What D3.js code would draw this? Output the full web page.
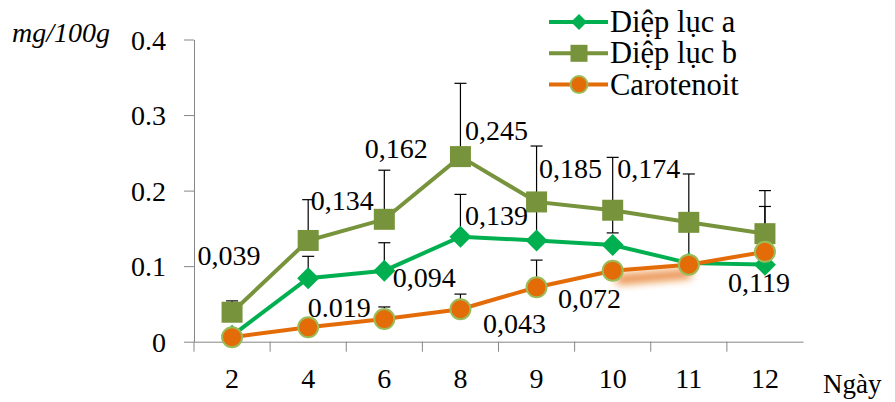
<!DOCTYPE html>
<html>
<head>
<meta charset="utf-8">
<script src="https://cdn.jsdelivr.net/npm/d3@7"></script>
<style>
  body { margin: 0; background: #fff; }
  svg, svg text { font-family: "Liberation Serif", "Times New Roman", Times, "DejaVu Serif", serif; }
</style>
</head>
<body>
<div id="chart"></div>
<script>
// days on the x axis
const days = ["2", "4", "6", "8", "9", "10", "11", "12"];
const yTicks = [0, 0.1, 0.2, 0.3, 0.4];

// series values (mg/100g)
const diepLucA = [0.008, 0.084, 0.094, 0.139, 0.134, 0.128, 0.104, 0.102];
const diepLucB = [0.039, 0.134, 0.162, 0.245, 0.185, 0.174, 0.158, 0.143];
const carotenoit = [0.006, 0.019, 0.030, 0.043, 0.072, 0.094, 0.102, 0.119];

// top of each error bar (null = no bar)
const errTopA = [null, 0.113, 0.131, 0.195, 0.175, null, 0.160, 0.179];
const errTopB = [0.054, 0.188, 0.227, 0.342, 0.259, 0.244, 0.222, 0.200];
const errTopC = [null, null, 0.046, 0.063, 0.108, null, null, null];
const errBottomB = [null, null, null, null, null, 0.144, null, null];

// data labels shown on the chart
const labelsA = [null, null, "0,094", "0,139", null, null, null, null];
const labelsB = ["0,039", "0,134", "0,162", "0,245", "0,185", "0,174", null, null];
const labelsC = [null, "0.019", null, "0,043", "0,072", null, null, "0,119"];

const seriesNames = ["Diệp lục a", "Diệp lục b", "Carotenoit"];

// label offsets from their point, [dx, dy]
const labelOffsets = {
  a: [null, null, [40, 16], [36, -12], null, null, null, null],
  b: [[-3, -47], [34, -30], [12, -61], [36, -17], [34, -24], [36, -32], null, null],
  c: [null, [31, -10], null, [54, 24], [53, 21], null, null, [-6, 40]]
};

const width = 895, height = 402;
const fontSize = 28;
const serif = "'Liberation Serif', 'Times New Roman', Times, 'DejaVu Serif', serif";
const colors = { a: "#00B050", b: "#77933C", c: "#E36C09", cEdge: "#9BBB59", axis: "#868686" };

const svg = d3.select("#chart").append("svg")
  .attr("width", width)
  .attr("height", height)
  .style("font-family", serif);

const defs = svg.append("defs");
defs.append("filter").attr("id", "glow")
  .attr("x", "-50%").attr("y", "-200%").attr("width", "200%").attr("height", "500%")
  .append("feGaussianBlur").attr("stdDeviation", 4);

const x = d3.scaleBand().domain(days).range([194, 803]).padding(0);
const y = d3.scaleLinear().domain([0, 0.4]).range([341.7, 39.5]);
const cx = d => x(d) + x.bandwidth() / 2;

// y axis
const yAxis = svg.append("g")
  .attr("transform", "translate(194,0)")
  .call(d3.axisLeft(y).tickValues(yTicks).tickSize(10).tickSizeOuter(0).tickPadding(18)
    .tickFormat(d => d === 0 ? "0" : d3.format(".1f")(d)));
yAxis.attr("font-family", null).attr("font-size", null);
yAxis.selectAll("path, line").attr("stroke", colors.axis);
yAxis.selectAll("text").attr("font-size", fontSize).attr("fill", "#000")
  .style("font-family", serif).attr("dy", "0.35em");

// x axis
const xAxis = svg.append("g")
  .attr("transform", `translate(0,${y(0)})`)
  .call(d3.axisBottom(x).tickSize(0).tickSizeOuter(0).tickPadding(26));
xAxis.attr("font-family", null).attr("font-size", null);
xAxis.select("path").attr("stroke", colors.axis);
xAxis.selectAll("text").attr("font-size", fontSize).attr("fill", "#000")
  .style("font-family", serif);
// ticks between the categories
xAxis.selectAll(".bound")
  .data(days)
  .enter()
  .append("line")
  .attr("class", "bound")
  .attr("x1", d => x(d)).attr("x2", d => x(d))
  .attr("y1", 0).attr("y2", 10)
  .attr("stroke", colors.axis);

// axis titles
svg.append("text")
  .attr("x", 12).attr("y", 42)
  .attr("font-size", fontSize).attr("font-style", "italic")
  .text("mg/100g");
svg.append("text")
  .attr("x", 823).attr("y", 393)
  .attr("font-size", 27)
  .text("Ngày");

// error bars
function drawErrors(values, tops, bottoms) {
  const g = svg.append("g").attr("stroke", "#000").attr("stroke-width", 1.2);
  days.forEach((d, i) => {
    const px = cx(d);
    if (tops[i] != null) {
      g.append("line").attr("x1", px).attr("x2", px)
        .attr("y1", y(values[i])).attr("y2", y(tops[i]));
      g.append("line").attr("x1", px - 6).attr("x2", px + 6)
        .attr("y1", y(tops[i])).attr("y2", y(tops[i]));
    }
    if (bottoms && bottoms[i] != null) {
      g.append("line").attr("x1", px).attr("x2", px)
        .attr("y1", y(values[i])).attr("y2", y(bottoms[i]));
      g.append("line").attr("x1", px - 6).attr("x2", px + 6)
        .attr("y1", y(bottoms[i])).attr("y2", y(bottoms[i]));
    }
  });
}
drawErrors(diepLucB, errTopB, errBottomB);
drawErrors(diepLucA, errTopA, null);
drawErrors(carotenoit, errTopC, null);

const line = d3.line().x((d, i) => cx(days[i])).y(d => y(d));

// blurred smear under the orange line between day 10 and 11
svg.append("line")
  .attr("x1", cx("10") + 4).attr("y1", y(carotenoit[5]) + 9)
  .attr("x2", cx("11") + 2).attr("y2", y(carotenoit[6]) + 9)
  .attr("stroke", colors.c).attr("stroke-width", 9)
  .attr("opacity", 0.85)
  .attr("filter", "url(#glow)");

// marker shapes
function square(g, px, py, s) {
  g.append("rect").attr("x", px - s / 2).attr("y", py - s / 2)
    .attr("width", s).attr("height", s).attr("fill", colors.b);
}
function diamond(g, px, py, s) {
  const h = s / 2;
  g.append("path")
    .attr("d", `M${px},${py - h}L${px + h},${py}L${px},${py + h}L${px - h},${py}Z`)
    .attr("fill", colors.a);
}
function circle(g, px, py, s) {
  g.append("circle").attr("cx", px).attr("cy", py).attr("r", s / 2)
    .attr("fill", colors.c).attr("stroke", colors.cEdge).attr("stroke-width", 2);
}

// series B
svg.append("path").datum(diepLucB).attr("d", line)
  .attr("fill", "none").attr("stroke", colors.b).attr("stroke-width", 4);
const gB = svg.append("g");
diepLucB.forEach((v, i) => square(gB, cx(days[i]), y(v), 21));

// series A
svg.append("path").datum(diepLucA).attr("d", line)
  .attr("fill", "none").attr("stroke", colors.a).attr("stroke-width", 4);
const gA = svg.append("g");
diepLucA.forEach((v, i) => diamond(gA, cx(days[i]), y(v), 22));

// series C
svg.append("path").datum(carotenoit).attr("d", line)
  .attr("fill", "none").attr("stroke", colors.c).attr("stroke-width", 4);
const gC = svg.append("g");
carotenoit.forEach((v, i) => circle(gC, cx(days[i]), y(v), 20));

// data labels
function drawLabels(values, labels, offsets) {
  svg.append("g")
    .selectAll("text")
    .data(labels.map((t, i) => ({ t, i })).filter(d => d.t != null))
    .enter()
    .append("text")
    .attr("x", d => cx(days[d.i]) + offsets[d.i][0])
    .attr("y", d => y(values[d.i]) + offsets[d.i][1])
    .attr("text-anchor", "middle")
    .attr("font-size", fontSize)
    .text(d => d.t);
}
drawLabels(diepLucB, labelsB, labelOffsets.b);
drawLabels(diepLucA, labelsA, labelOffsets.a);
drawLabels(carotenoit, labelsC, labelOffsets.c);

// legend
const legend = svg.append("g");
const markers = [diamond, square, circle];
const legendColors = [colors.a, colors.b, colors.c];
const legendSizes = [16, 17, 17];
seriesNames.forEach((name, i) => {
  const base = 32 + i * 31.3;
  const ly = base - 10;
  legend.append("line")
    .attr("x1", 549).attr("x2", 608).attr("y1", ly).attr("y2", ly)
    .attr("stroke", legendColors[i]).attr("stroke-width", 4);
  markers[i](legend, 579, ly, legendSizes[i]);
  legend.append("text")
    .attr("x", 610).attr("y", base)
    .attr("font-size", 30.5)
    .text(name);
});
</script>
</body>
</html>
